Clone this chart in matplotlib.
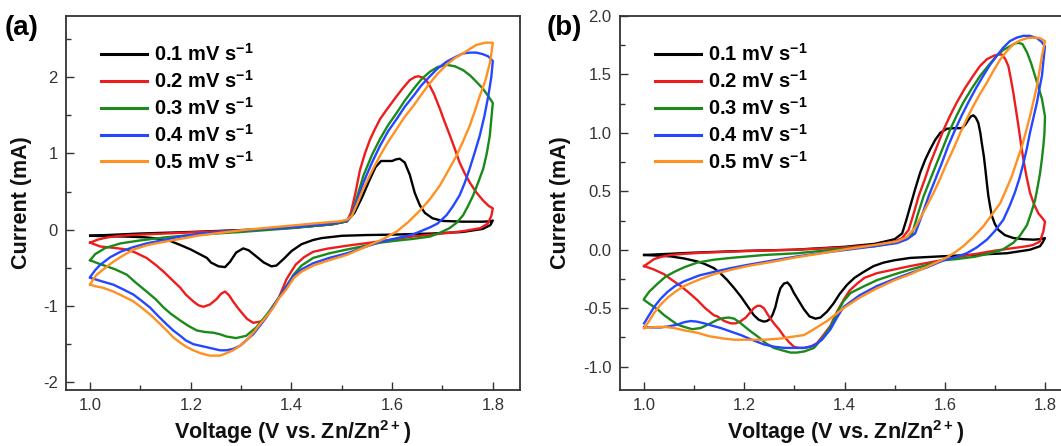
"""Cyclic voltammograms at five scan rates, two electrodes side by side."""

import matplotlib as mpl

mpl.use("Agg")
import matplotlib.pyplot as plt
from matplotlib.ticker import MultipleLocator, FormatStrFormatter

mpl.rcParams.update(
    {
        "font.family": ["Liberation Sans", "DejaVu Sans"],
        "mathtext.fontset": "custom",
        "mathtext.rm": "Liberation Sans",
        "mathtext.bf": "Liberation Sans:bold",
        "axes.unicode_minus": False,
    }
)

RATES = ["0.1", "0.2", "0.3", "0.4", "0.5"]
COLORS = ["#000000", "#ee1c1c", "#1a8a1a", "#2448ff", "#ff9022"]

# --- panel (a): each loop = anodic sweep 1.0 -> 1.8 V, then cathodic 1.8 -> 1.0 V ---
A_V_01 = [1.00, 1.05, 1.10, 1.20, 1.30, 1.40, 1.48, 1.51, 1.525, 1.54, 1.555, 1.567, 1.578, 1.59,
          1.60, 1.607, 1.615, 1.625, 1.635, 1.645, 1.655, 1.665, 1.68, 1.70, 1.74, 1.78, 1.795, 1.80,
          1.795, 1.78, 1.74, 1.68, 1.60, 1.55, 1.50, 1.46, 1.443, 1.42, 1.40, 1.385, 1.37, 1.36,
          1.345, 1.33, 1.315, 1.304, 1.29, 1.278, 1.268, 1.255, 1.24, 1.232, 1.20, 1.179, 1.16,
          1.139, 1.11, 1.07, 1.03, 1.00]
A_I_01 = [-0.08, -0.065, -0.05, -0.03, -0.005, 0.025, 0.07, 0.11, 0.22, 0.42, 0.65, 0.82, 0.90, 0.90,
          0.90, 0.92, 0.93, 0.88, 0.72, 0.48, 0.32, 0.22, 0.15, 0.115, 0.105, 0.105, 0.11, 0.12,
          0.06, 0.01, -0.03, -0.05, -0.065, -0.07, -0.08, -0.11, -0.135, -0.19, -0.28, -0.38, -0.47, -0.48,
          -0.43, -0.35, -0.27, -0.245, -0.30, -0.42, -0.49, -0.48, -0.43, -0.37, -0.26, -0.20, -0.15,
          -0.12, -0.10, -0.09, -0.085, -0.08]

A_V_02 = [1.00, 1.015, 1.035, 1.06, 1.10, 1.20, 1.30, 1.40, 1.48, 1.51, 1.518, 1.527, 1.536, 1.546,
          1.556, 1.566, 1.576, 1.59, 1.609, 1.622, 1.635, 1.645, 1.652, 1.662, 1.672, 1.683, 1.695,
          1.705, 1.715, 1.725, 1.734, 1.744, 1.754, 1.767, 1.781, 1.792, 1.80,
          1.797, 1.79, 1.775, 1.74, 1.70, 1.64, 1.58, 1.51, 1.47, 1.443, 1.425, 1.408, 1.39, 1.375,
          1.358, 1.341, 1.324, 1.312, 1.304, 1.294, 1.284, 1.276, 1.268, 1.26, 1.251, 1.238, 1.225,
          1.215, 1.205, 1.19, 1.179, 1.16, 1.146, 1.13, 1.112, 1.09, 1.073, 1.05, 1.02, 1.00]
A_I_02 = [-0.17, -0.13, -0.10, -0.08, -0.065, -0.035, -0.01, 0.025, 0.07, 0.11, 0.22, 0.48, 0.78, 1.00,
          1.18, 1.32, 1.45, 1.58, 1.75, 1.86, 1.96, 2.00, 2.01, 1.99, 1.92, 1.78, 1.58,
          1.40, 1.23, 1.05, 0.88, 0.74, 0.62, 0.49, 0.38, 0.31, 0.28,
          0.18, 0.08, 0.02, -0.02, -0.05, -0.09, -0.15, -0.21, -0.25, -0.29, -0.36, -0.46, -0.65, -0.89,
          -1.07, -1.20, -1.22, -1.17, -1.11, -1.03, -0.94, -0.86, -0.81, -0.84, -0.91, -0.98, -1.01,
          -0.99, -0.94, -0.85, -0.76, -0.64, -0.55, -0.46, -0.37, -0.30, -0.26, -0.24, -0.22, -0.17]

A_V_03 = [1.00, 1.01, 1.03, 1.06, 1.10, 1.15, 1.20, 1.30, 1.40, 1.48, 1.51, 1.52, 1.53, 1.543, 1.56,
          1.576, 1.592, 1.609, 1.625, 1.642, 1.658, 1.675, 1.69, 1.708, 1.725, 1.741, 1.755, 1.767,
          1.78, 1.791, 1.80,
          1.797, 1.794, 1.788, 1.781, 1.771, 1.761, 1.75, 1.741, 1.728, 1.714, 1.695, 1.675, 1.642,
          1.60, 1.576, 1.54, 1.51, 1.475, 1.443, 1.42, 1.404, 1.39, 1.375, 1.36, 1.35, 1.33, 1.31,
          1.29, 1.271, 1.258, 1.245, 1.228, 1.212, 1.195, 1.179, 1.16, 1.146, 1.13, 1.112, 1.09,
          1.073, 1.05, 1.033, 1.015, 1.00]
A_I_03 = [-0.40, -0.32, -0.24, -0.18, -0.14, -0.10, -0.07, -0.03, 0.02, 0.07, 0.11, 0.20, 0.42, 0.71, 0.98,
          1.19, 1.37, 1.53, 1.69, 1.84, 1.97, 2.07, 2.13, 2.16, 2.14, 2.09, 2.02, 1.94,
          1.85, 1.75, 1.66,
          1.45, 1.23, 1.00, 0.80, 0.62, 0.45, 0.30, 0.19, 0.09, 0.02, -0.04, -0.09, -0.12,
          -0.15, -0.17, -0.22, -0.26, -0.31, -0.37, -0.47, -0.59, -0.74, -0.89, -1.03, -1.12, -1.28, -1.39,
          -1.42, -1.40, -1.37, -1.35, -1.34, -1.32, -1.26, -1.19, -1.10, -1.02, -0.91, -0.81, -0.69,
          -0.59, -0.52, -0.48, -0.44, -0.40]

A_V_04 = [1.00, 1.01, 1.02, 1.04, 1.06, 1.085, 1.112, 1.15, 1.179, 1.22, 1.30, 1.40, 1.48, 1.51, 1.52,
          1.53, 1.543, 1.56, 1.576, 1.592, 1.609, 1.625, 1.642, 1.658, 1.675, 1.69, 1.708, 1.725,
          1.741, 1.755, 1.767, 1.78, 1.791, 1.80,
          1.797, 1.791, 1.783, 1.774, 1.764, 1.754, 1.744, 1.734, 1.72, 1.708, 1.69, 1.675, 1.642,
          1.61, 1.576, 1.54, 1.51, 1.475, 1.443, 1.42, 1.405, 1.39, 1.375, 1.362, 1.35, 1.337, 1.324,
          1.31, 1.298, 1.285, 1.271, 1.258, 1.245, 1.225, 1.205, 1.19, 1.179, 1.165, 1.152, 1.135,
          1.119, 1.10, 1.086, 1.065, 1.046, 1.025, 1.00]
A_I_04 = [-0.62, -0.53, -0.46, -0.36, -0.29, -0.23, -0.18, -0.13, -0.09, -0.05, -0.01, 0.03, 0.08, 0.12, 0.19,
          0.38, 0.62, 0.88, 1.10, 1.29, 1.45, 1.61, 1.75, 1.89, 2.01, 2.11, 2.20, 2.26,
          2.31, 2.32, 2.32, 2.30, 2.27, 2.21,
          2.00, 1.75, 1.48, 1.23, 1.01, 0.80, 0.61, 0.45, 0.30, 0.19, 0.08, 0.03, -0.06,
          -0.11, -0.16, -0.24, -0.31, -0.37, -0.44, -0.52, -0.60, -0.74, -0.89, -1.02, -1.15, -1.26, -1.37,
          -1.45, -1.52, -1.56, -1.58, -1.58, -1.56, -1.53, -1.50, -1.45, -1.39, -1.32, -1.24, -1.13,
          -1.02, -0.92, -0.85, -0.78, -0.72, -0.68, -0.63]

A_V_05 = [1.00, 1.005, 1.013, 1.03, 1.046, 1.065, 1.086, 1.115, 1.146, 1.18, 1.212, 1.26, 1.311, 1.36,
          1.41, 1.46, 1.496, 1.51, 1.52, 1.53, 1.543, 1.56, 1.576, 1.592, 1.609, 1.625, 1.642, 1.658,
          1.675, 1.69, 1.708, 1.725, 1.741, 1.755, 1.767, 1.785, 1.80,
          1.797, 1.794, 1.785, 1.774, 1.764, 1.754, 1.741, 1.728, 1.712, 1.695, 1.675, 1.655, 1.632,
          1.61, 1.58, 1.545, 1.51, 1.475, 1.443, 1.42, 1.405, 1.39, 1.375, 1.364, 1.35, 1.337, 1.324,
          1.311, 1.298, 1.284, 1.27, 1.258, 1.245, 1.238, 1.22, 1.205, 1.19, 1.179, 1.165, 1.152,
          1.135, 1.119, 1.10, 1.086, 1.065, 1.046, 1.025, 1.01, 1.00]
A_I_05 = [-0.72, -0.66, -0.59, -0.50, -0.42, -0.34, -0.26, -0.20, -0.16, -0.12, -0.08, -0.04, 0.0, 0.03,
          0.06, 0.09, 0.11, 0.13, 0.18, 0.33, 0.54, 0.77, 0.97, 1.15, 1.32, 1.48, 1.62, 1.77,
          1.92, 2.04, 2.16, 2.25, 2.31, 2.37, 2.42, 2.45, 2.45,
          2.30, 2.18, 1.95, 1.75, 1.55, 1.36, 1.16, 0.97, 0.78, 0.58, 0.40, 0.25, 0.10,
          -0.02, -0.13, -0.23, -0.33, -0.40, -0.47, -0.55, -0.63, -0.78, -0.90, -1.02, -1.14, -1.24, -1.35,
          -1.45, -1.52, -1.58, -1.62, -1.65, -1.65, -1.65, -1.62, -1.58, -1.53, -1.48, -1.41, -1.32,
          -1.21, -1.11, -1.01, -0.94, -0.87, -0.81, -0.76, -0.74, -0.72]

# --- panel (b) ---
B_V_01 = [1.00, 1.05, 1.10, 1.20, 1.30, 1.40, 1.46, 1.50, 1.515, 1.523, 1.531, 1.541, 1.551, 1.561,
          1.571, 1.581, 1.591, 1.604, 1.62, 1.634, 1.641, 1.647, 1.652, 1.657, 1.662, 1.667, 1.671,
          1.674, 1.678, 1.681, 1.684, 1.687, 1.691, 1.694, 1.70, 1.707, 1.72, 1.737, 1.757, 1.777,
          1.79, 1.80,
          1.795, 1.79, 1.77, 1.724, 1.65, 1.591, 1.531, 1.50, 1.478, 1.458, 1.438, 1.42, 1.405, 1.39,
          1.378, 1.365, 1.352, 1.342, 1.33, 1.319, 1.309, 1.299, 1.292, 1.286, 1.279, 1.272, 1.267,
          1.262, 1.257, 1.252, 1.245, 1.239, 1.229, 1.219, 1.206, 1.193, 1.18, 1.166, 1.152, 1.139,
          1.12, 1.106, 1.08, 1.053, 1.025, 1.00]
B_I_01 = [-0.045, -0.035, -0.025, -0.01, 0.0, 0.025, 0.05, 0.09, 0.14, 0.25, 0.37, 0.52, 0.66, 0.77,
          0.86, 0.94, 1.00, 1.035, 1.04, 1.04, 1.07, 1.11, 1.14, 1.15, 1.13, 1.085, 1.00,
          0.91, 0.80, 0.69, 0.57, 0.46, 0.36, 0.29, 0.22, 0.17, 0.125, 0.10, 0.09, 0.086,
          0.09, 0.10,
          0.06, 0.03, 0.0, -0.03, -0.045, -0.057, -0.07, -0.09, -0.11, -0.14, -0.19, -0.24, -0.30, -0.38,
          -0.46, -0.53, -0.58, -0.59, -0.57, -0.51, -0.44, -0.37, -0.31, -0.28, -0.29, -0.33, -0.40,
          -0.49, -0.55, -0.59, -0.61, -0.615, -0.60, -0.56, -0.48, -0.40, -0.33, -0.26, -0.20, -0.157,
          -0.12, -0.10, -0.075, -0.057, -0.05, -0.045]

B_V_02 = [1.00, 1.01, 1.02, 1.035, 1.053, 1.08, 1.12, 1.20, 1.30, 1.40, 1.46, 1.50, 1.515, 1.528,
          1.538, 1.548, 1.56, 1.571, 1.585, 1.598, 1.611, 1.624, 1.64, 1.657, 1.67, 1.684, 1.698,
          1.707, 1.714, 1.721, 1.727, 1.732, 1.737, 1.742, 1.747, 1.752, 1.757, 1.763, 1.77, 1.778,
          1.787, 1.795, 1.80,
          1.797, 1.79, 1.776, 1.764, 1.73, 1.697, 1.65, 1.598, 1.531, 1.465, 1.44, 1.425, 1.41, 1.398,
          1.385, 1.372, 1.358, 1.345, 1.332, 1.319, 1.309, 1.299, 1.289, 1.279, 1.269, 1.259, 1.249,
          1.239, 1.232, 1.226, 1.219, 1.213, 1.203, 1.193, 1.183, 1.173, 1.16, 1.146, 1.139, 1.122,
          1.106, 1.09, 1.073, 1.056, 1.04, 1.02, 1.00]
B_I_02 = [-0.14, -0.11, -0.08, -0.06, -0.045, -0.035, -0.025, -0.012, 0.0, 0.02, 0.04, 0.07, 0.10, 0.17,
          0.31, 0.46, 0.60, 0.74, 0.89, 1.03, 1.15, 1.26, 1.38, 1.49, 1.57, 1.63, 1.66,
          1.67, 1.67, 1.63, 1.57, 1.46, 1.34, 1.20, 1.06, 0.91, 0.77, 0.63, 0.49, 0.39,
          0.31, 0.27, 0.24,
          0.16, 0.07, 0.04, 0.03, 0.01, -0.01, -0.045, -0.086, -0.14, -0.20, -0.24, -0.29, -0.35, -0.43,
          -0.53, -0.65, -0.73, -0.80, -0.83, -0.84, -0.84, -0.83, -0.79, -0.74, -0.68, -0.63, -0.57,
          -0.50, -0.48, -0.48, -0.50, -0.53, -0.58, -0.61, -0.63, -0.63, -0.61, -0.57, -0.56, -0.50,
          -0.43, -0.37, -0.31, -0.26, -0.21, -0.17, -0.14]

B_V_03 = [1.00, 1.01, 1.027, 1.043, 1.06, 1.08, 1.106, 1.14, 1.173, 1.24, 1.306, 1.40, 1.46, 1.50,
          1.52, 1.535, 1.546, 1.558, 1.571, 1.584, 1.598, 1.611, 1.624, 1.637, 1.654, 1.671, 1.688,
          1.704, 1.717, 1.73, 1.74, 1.747, 1.755, 1.764, 1.772, 1.78, 1.787, 1.794, 1.80,
          1.799, 1.797, 1.794, 1.79, 1.785, 1.78, 1.772, 1.764, 1.75, 1.737, 1.715, 1.691, 1.66,
          1.624, 1.598, 1.565, 1.531, 1.50, 1.465, 1.44, 1.412, 1.398, 1.385, 1.372, 1.355, 1.339,
          1.32, 1.305, 1.292, 1.275, 1.259, 1.243, 1.226, 1.21, 1.193, 1.18, 1.169, 1.158, 1.146,
          1.13, 1.113, 1.096, 1.08, 1.066, 1.053, 1.04, 1.027, 1.013, 1.00]
B_I_03 = [-0.42, -0.36, -0.29, -0.23, -0.19, -0.15, -0.11, -0.085, -0.07, -0.045, -0.03, 0.01, 0.03, 0.06,
          0.09, 0.14, 0.30, 0.46, 0.60, 0.74, 0.89, 1.03, 1.15, 1.26, 1.38, 1.49, 1.58,
          1.66, 1.71, 1.74, 1.765, 1.77, 1.76, 1.69, 1.60, 1.49, 1.39, 1.29, 1.14,
          1.00, 0.90, 0.78, 0.65, 0.53, 0.42, 0.31, 0.21, 0.12, 0.06, 0.0, -0.03, -0.06,
          -0.08, -0.09, -0.13, -0.17, -0.21, -0.26, -0.31, -0.37, -0.44, -0.54, -0.66, -0.76, -0.84,
          -0.87, -0.88, -0.88, -0.86, -0.84, -0.80, -0.74, -0.69, -0.63, -0.59, -0.58, -0.585, -0.60,
          -0.635, -0.67, -0.68, -0.66, -0.64, -0.60, -0.56, -0.51, -0.47, -0.43]

B_V_04 = [1.00, 1.01, 1.02, 1.033, 1.047, 1.062, 1.08, 1.11, 1.139, 1.17, 1.206, 1.26, 1.306, 1.355,
          1.405, 1.46, 1.505, 1.525, 1.541, 1.555, 1.568, 1.581, 1.594, 1.607, 1.621, 1.634, 1.647,
          1.662, 1.677, 1.69, 1.704, 1.717, 1.73, 1.744, 1.757, 1.77, 1.784, 1.793, 1.80,
          1.797, 1.794, 1.789, 1.784, 1.777, 1.77, 1.764, 1.757, 1.749, 1.74, 1.73, 1.717, 1.70,
          1.684, 1.664, 1.644, 1.62, 1.598, 1.565, 1.531, 1.50, 1.465, 1.43, 1.398, 1.385, 1.372,
          1.355, 1.339, 1.32, 1.306, 1.28, 1.26, 1.239, 1.215, 1.193, 1.173, 1.153, 1.136, 1.12,
          1.105, 1.093, 1.08, 1.067, 1.05, 1.033, 1.015, 1.00]
B_I_04 = [-0.63, -0.56, -0.49, -0.42, -0.36, -0.31, -0.27, -0.22, -0.19, -0.16, -0.13, -0.09, -0.057, -0.027,
          0.0, 0.03, 0.057, 0.09, 0.14, 0.30, 0.46, 0.60, 0.74, 0.89, 1.03, 1.15, 1.26,
          1.38, 1.49, 1.58, 1.66, 1.73, 1.785, 1.815, 1.83, 1.83, 1.81, 1.78, 1.74,
          1.62, 1.49, 1.38, 1.26, 1.13, 1.00, 0.87, 0.74, 0.61, 0.49, 0.38, 0.257, 0.16,
          0.086, 0.02, -0.03, -0.065, -0.09, -0.15, -0.20, -0.25, -0.31, -0.39, -0.49, -0.58, -0.68,
          -0.77, -0.82, -0.84, -0.84, -0.84, -0.83, -0.81, -0.77, -0.73, -0.70, -0.67, -0.65, -0.63,
          -0.615, -0.61, -0.62, -0.64, -0.655, -0.665, -0.665, -0.66]

B_V_05 = [1.00, 1.01, 1.02, 1.033, 1.047, 1.062, 1.08, 1.11, 1.139, 1.17, 1.206, 1.26, 1.306, 1.355,
          1.405, 1.46, 1.505, 1.525, 1.541, 1.56, 1.578, 1.591, 1.604, 1.618, 1.631, 1.644, 1.657,
          1.67, 1.684, 1.697, 1.711, 1.724, 1.737, 1.75, 1.764, 1.777, 1.79, 1.80,
          1.797, 1.794, 1.789, 1.784, 1.777, 1.77, 1.762, 1.754, 1.744, 1.734, 1.722, 1.711, 1.694,
          1.677, 1.657, 1.637, 1.618, 1.598, 1.565, 1.531, 1.50, 1.465, 1.43, 1.398, 1.38, 1.365,
          1.35, 1.335, 1.319, 1.295, 1.272, 1.24, 1.206, 1.18, 1.159, 1.13, 1.106, 1.08, 1.06, 1.04,
          1.027, 1.013, 1.00]
B_I_05 = [-0.67, -0.61, -0.54, -0.47, -0.41, -0.36, -0.31, -0.255, -0.21, -0.175, -0.14, -0.10, -0.063, -0.03,
          0.006, 0.04, 0.071, 0.11, 0.19, 0.34, 0.49, 0.61, 0.74, 0.87, 1.00, 1.12, 1.23,
          1.33, 1.43, 1.53, 1.63, 1.70, 1.76, 1.79, 1.81, 1.815, 1.81, 1.785,
          1.72, 1.66, 1.53, 1.40, 1.27, 1.14, 1.01, 0.885, 0.76, 0.63, 0.51, 0.40, 0.30,
          0.20, 0.11, 0.03, -0.03, -0.08, -0.145, -0.21, -0.26, -0.33, -0.41, -0.50, -0.56, -0.61,
          -0.65, -0.69, -0.73, -0.745, -0.76, -0.77, -0.77, -0.77, -0.76, -0.74, -0.71, -0.69, -0.67, -0.66,
          -0.66, -0.665, -0.67]

PANEL_A = [(A_V_01, A_I_01), (A_V_02, A_I_02), (A_V_03, A_I_03), (A_V_04, A_I_04), (A_V_05, A_I_05)]
PANEL_B = [(B_V_01, B_I_01), (B_V_02, B_I_02), (B_V_03, B_I_03), (B_V_04, B_I_04), (B_V_05, B_I_05)]

GREY = "#333333"


def draw_panel(ax, loops, ylim, ymajor, yfmt):
    for (v, i), rate, col in zip(loops, RATES, COLORS):
        ax.plot(v, i, color=col, lw=1.7, solid_joinstyle="round",
                label=rf"{rate} mV s$^{{\mathbf{{-1}}}}$")
    ax.set_xlim(0.952, 1.854)
    ax.set_ylim(*ylim)
    ax.xaxis.set_major_locator(MultipleLocator(0.2))
    ax.xaxis.set_minor_locator(MultipleLocator(0.1))
    ax.xaxis.set_major_formatter(FormatStrFormatter("%.1f"))
    ax.yaxis.set_major_locator(MultipleLocator(ymajor))
    ax.yaxis.set_minor_locator(MultipleLocator(ymajor / 2))
    ax.yaxis.set_major_formatter(FormatStrFormatter(yfmt))
    ax.tick_params(which="both", direction="in", top=False, right=False,
                   color=GREY, labelcolor=GREY, width=1.0, labelsize=12)
    ax.tick_params(which="major", length=6, pad=6)
    ax.tick_params(which="minor", length=3.5)
    for sp in ax.spines.values():
        sp.set_color(GREY)
        sp.set_linewidth(1.3)
    ax.set_xlabel(r"Voltage (V vs. Zn/Zn$^{\mathbf{2+}}$)", fontsize=15.5,
                  fontweight="bold", color="#111111")
    ax.set_ylabel("Current (mA)", fontsize=15.5, fontweight="bold", color="#111111")
    ax.xaxis.set_label_coords(0.5, -0.074)
    leg = ax.legend(loc="upper left", bbox_to_anchor=(0.055, 0.955), frameon=False,
                    borderpad=0, handlelength=2.3, handletextpad=0.35, labelspacing=0.25,
                    prop={"weight": "bold", "size": 14.5})
    for line in leg.get_lines():
        line.set_linewidth(2.2)
    return ax


fig = plt.figure(figsize=(10.61, 4.46), dpi=100)
ax_a = fig.add_axes([0.0622, 0.1256, 0.4279, 0.8386])
ax_b = fig.add_axes([0.5844, 0.1256, 0.4260, 0.8386])

draw_panel(ax_a, PANEL_A, (-2.1, 2.8), 1.0, "%d")
draw_panel(ax_b, PANEL_B, (-1.2, 2.0), 0.5, "%.1f")
ax_a.yaxis.set_label_coords(-0.075, 0.5)
ax_b.yaxis.set_label_coords(-0.108, 0.5)

fig.text(0.004, 0.937, "(a)", fontsize=20, fontweight="bold", va="center")
fig.text(0.515, 0.937, "(b)", fontsize=20, fontweight="bold", va="center")

fig.savefig("out.png", dpi=100)
